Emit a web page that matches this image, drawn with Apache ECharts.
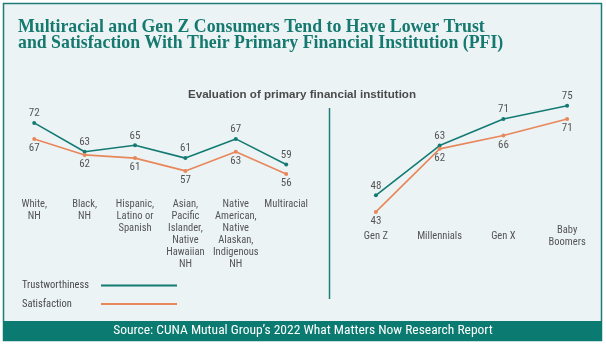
<!DOCTYPE html>
<html>
<head>
<meta charset="utf-8">
<script src="https://cdn.jsdelivr.net/npm/echarts@6/dist/echarts.min.js"></script>
<style>
html,body{margin:0;padding:0;background:#fff;}
#c{width:606px;height:347px;}
</style>
</head>
<body>
<div id="c"></div>
<script>
const raceCategories = ['White,\nNH', 'Black,\nNH', 'Hispanic,\nLatino or\nSpanish', 'Asian,\nPacific\nIslander,\nNative\nHawaiian\nNH', 'Native\nAmerican,\nNative\nAlaskan,\nIndigenous\nNH', 'Multiracial'];
const raceTrust = [72, 63, 65, 61, 67, 59];
const raceSatisfaction = [67, 62, 61, 57, 63, 56];
const genCategories = ['Gen Z', 'Millennials', 'Gen X', 'Baby\nBoomers'];
const genTrust = [48, 63, 71, 75];
const genSatisfaction = [43, 62, 66, 71];
const seriesNames = ['Trustworthiness', 'Satisfaction'];

const TEAL = '#137b73';
const ORANGE = '#e8875a';
const NARROW = "'Liberation Sans Narrow', 'Roboto Condensed', 'Arial Narrow', Roboto, sans-serif";

const chart = echarts.init(document.getElementById('c'), null, {renderer: 'canvas'});

function lineSeries(name, data, color, xi, pos) {
  return {
    name: name, type: 'line', xAxisIndex: xi, yAxisIndex: xi, data: data,
    symbol: 'circle', symbolSize: 4, showSymbol: true,
    lineStyle: {color: color, width: 1.6},
    itemStyle: {color: color},
    label: {show: true, position: pos, distance: 2, color: '#555', fontSize: 11, fontFamily: NARROW},
    emphasis: {disabled: true},
    animation: false
  };
}

const catLabel = {color: '#555', fontSize: 10.5, lineHeight: 12, fontFamily: NARROW, interval: 0};

chart.setOption({
  animation: false,
  backgroundColor: '#ffffff',
  graphic: [
    {type: 'rect', shape: {x: 3.5, y: 3.5, width: 598, height: 337}, style: {fill: '#ecf3f5', stroke: '#1f7d77', lineWidth: 1.5}, z: -10},
    {type: 'rect', shape: {x: 3, y: 321, width: 599, height: 20}, style: {fill: '#0b7a70'}, z: -5},
    {type: 'line', shape: {x1: 329.5, y1: 108, x2: 329.5, y2: 299}, style: {stroke: '#1f7d77', lineWidth: 1.5}, z: -5}
  ],
  title: [
    {text: 'Multiracial and Gen Z Consumers Tend to Have Lower Trust\nand Satisfaction With Their Primary Financial Institution (PFI)',
     left: 18, top: 20, padding: 0,
     textStyle: {fontFamily: "'Liberation Serif', serif", fontWeight: 'bold', fontSize: 17.8, lineHeight: 15.5, color: '#16796f'}},
    {text: 'Evaluation of primary financial institution', left: 302, top: 89, padding: 0, textAlign: 'center',
     textStyle: {fontFamily: "'Liberation Sans', Arial, sans-serif", fontWeight: 'bold', fontSize: 11.6, lineHeight: 12, color: '#4a4a4a'}},
    {text: 'Source: CUNA Mutual Group\u2019s 2022 What Matters Now Research Report', left: 303, top: 324, padding: 0, textAlign: 'center',
     textStyle: {fontFamily: NARROW, fontWeight: 'normal', fontSize: 13.5, lineHeight: 14, color: '#ffffff'}}
  ],
  legend: {
    orient: 'vertical', left: 17, top: 275, padding: 5,
    align: 'right', icon: 'rect', itemWidth: 76, itemHeight: 2, itemGap: 7.5,
    selectedMode: false,
    data: seriesNames,
    formatter: function (n) { return '{a|' + n + '}'; },
    textStyle: {rich: {a: {width: 74, align: 'left', fontFamily: NARROW, fontSize: 10.5, lineHeight: 12, color: '#4a4a4a'}}}
  },
  grid: [
    {left: 9, top: 97.3, width: 302.4, height: 102.4, containLabel: false},
    {left: 344, top: 89.1, width: 255, height: 132.8, containLabel: false}
  ],
  xAxis: [
    {type: 'category', gridIndex: 0, data: raceCategories, boundaryGap: true,
     axisLine: {show: false}, axisTick: {show: false}, splitLine: {show: false},
     axisLabel: Object.assign({margin: -1}, catLabel)},
    {type: 'category', gridIndex: 1, data: genCategories, boundaryGap: true,
     axisLine: {show: false}, axisTick: {show: false}, splitLine: {show: false},
     axisLabel: Object.assign({margin: 14, verticalAlign: 'middle'}, catLabel)}
  ],
  yAxis: [
    {type: 'value', gridIndex: 0, min: 48, max: 80, show: false, splitLine: {show: false}},
    {type: 'value', gridIndex: 1, min: 40, max: 80, show: false, splitLine: {show: false}}
  ],
  series: [
    lineSeries(seriesNames[0], raceTrust, TEAL, 0, 'top'),
    lineSeries(seriesNames[1], raceSatisfaction, ORANGE, 0, 'bottom'),
    lineSeries(seriesNames[0], genTrust, TEAL, 1, 'top'),
    lineSeries(seriesNames[1], genSatisfaction, ORANGE, 1, 'bottom')
  ]
});
</script>
</body>
</html>
